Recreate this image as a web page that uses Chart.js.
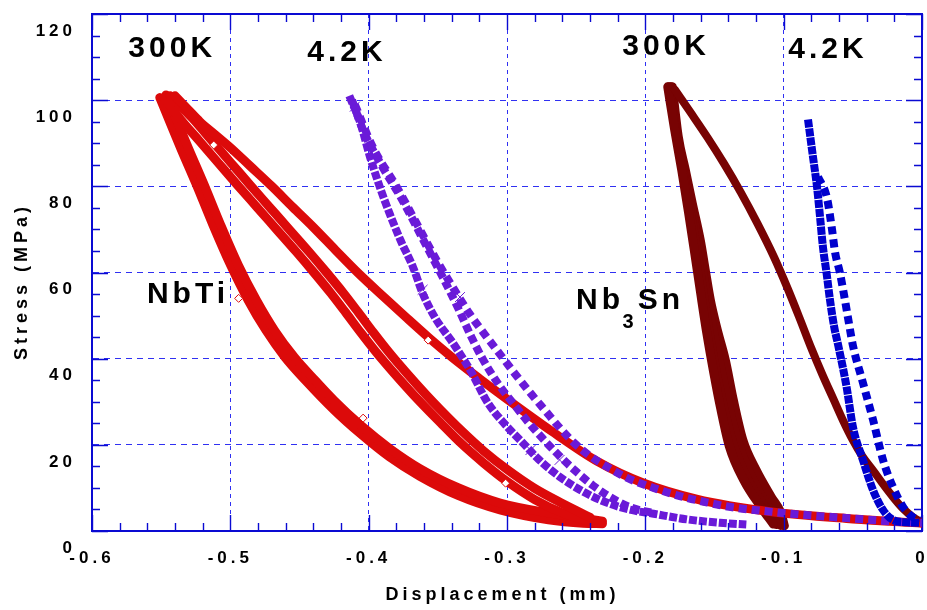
<!DOCTYPE html>
<html lang="en">
<head>
<meta charset="utf-8">
<title>Stress vs Displacement</title>
<script src="https://cdn.jsdelivr.net/npm/chart.js@4.4.1/dist/chart.umd.min.js"></script>
<style>
  html, body { margin: 0; padding: 0; background: #fff; }
  #wrap { width: 927px; height: 610px; }
</style>
</head>
<body>
<div id="wrap"><canvas id="stressChart" width="927" height="610"></canvas></div>
<script>
// --- Dados: [deslocamento (mm), tensão (MPa)] ---
const xTicks = [-0.6, -0.5, -0.4, -0.3, -0.2, -0.1, 0];
const yTicks = [0, 20, 40, 60, 80, 100, 120];

// NbTi 300K (vermelho) - primeira carga
const nbti300Upper = [[-0.540, 101.0], [-0.531, 98.0], [-0.522, 95.0], [-0.511, 92.0], [-0.500, 89.0], [-0.486, 84.8], [-0.470, 80.0], [-0.455, 75.2], [-0.440, 70.5], [-0.424, 65.2], [-0.408, 60.0], [-0.390, 54.6], [-0.373, 49.6], [-0.357, 45.0], [-0.340, 40.4], [-0.320, 35.4], [-0.300, 30.6], [-0.267, 23.0], [-0.235, 16.2], [-0.202, 11.2], [-0.163, 7.4], [-0.110, 4.5], [-0.050, 2.8], [0.000, 1.8]];
// NbTi 300K - ciclos de recarga (duas faixas)
const nbti300ReloadA = [[-0.5435, 101.0], [-0.5274, 95.8], [-0.5134, 90.6], [-0.4994, 85.4], [-0.4854, 80.2], [-0.4714, 75.1], [-0.4574, 70.0], [-0.4434, 64.9], [-0.4304, 60.0], [-0.4184, 55.3], [-0.4074, 50.7], [-0.3964, 46.0], [-0.3854, 41.5], [-0.3724, 36.6], [-0.3584, 31.6], [-0.348, 28.1], [-0.333, 23.3], [-0.317, 18.6], [-0.300, 14.3], [-0.280, 9.9], [-0.260, 6.4], [-0.240, 3.2]];
const nbti300ReloadB = [[-0.5480, 100.6], [-0.5366, 95.8], [-0.5226, 90.6], [-0.5086, 85.4], [-0.4946, 80.2], [-0.4806, 75.1], [-0.4666, 70.0], [-0.4526, 64.9], [-0.4396, 60.0], [-0.4276, 55.3], [-0.4166, 50.7], [-0.4056, 46.0], [-0.3946, 41.5], [-0.3816, 36.6], [-0.3676, 31.6], [-0.348, 25.1], [-0.333, 20.3], [-0.317, 15.8], [-0.300, 11.5], [-0.280, 7.3], [-0.260, 4.2], [-0.242, 2.3]];
// NbTi 300K - descargas (faixa grossa)
const nbti300UnloadA = [[-0.5465, 101.2], [-0.5383, 95.0], [-0.5302, 88.8], [-0.5192, 80.6], [-0.5072, 71.2], [-0.4942, 61.7], [-0.4810, 53.5], [-0.4679, 46.5], [-0.4536, 40.3], [-0.4385, 34.9], [-0.425, 30.3], [-0.406, 24.6], [-0.385, 19.2], [-0.363, 14.5], [-0.335, 10.0], [-0.305, 6.5], [-0.270, 4.2], [-0.245, 3.0], [-0.231, 2.3]];
const nbti300UnloadB = [[-0.551, 100.6], [-0.5438, 95.0], [-0.5358, 88.8], [-0.5248, 80.6], [-0.5128, 71.2], [-0.4998, 61.7], [-0.4870, 53.5], [-0.4741, 46.5], [-0.4604, 40.3], [-0.4455, 34.9], [-0.425, 28.1], [-0.406, 22.6], [-0.385, 17.2], [-0.363, 12.7], [-0.335, 8.2], [-0.305, 4.9], [-0.270, 2.6], [-0.245, 1.8], [-0.231, 1.7]];
const nbti300Marks = [[-0.512, 89.6], [-0.494, 54.0], [-0.357, 44.3], [-0.404, 26.2], [-0.301, 11.1]];

// NbTi 4.2K (roxo, pontos quadrados)
const nbti4kLeft = [[-0.414, 101.0], [-0.406, 94.7], [-0.399, 86.8], [-0.392, 79.9], [-0.385, 73.8], [-0.377, 67.5], [-0.368, 61.3], [-0.361, 55.2], [-0.352, 49.5], [-0.339, 43.6], [-0.326, 37.0], [-0.314, 29.8], [-0.301, 24.6], [-0.289, 20.6], [-0.277, 16.6], [-0.262, 12.6], [-0.243, 8.8], [-0.228, 6.6], [-0.212, 5.0], [-0.194, 4.0], [-0.170, 2.7], [-0.146, 1.9], [-0.127, 1.5]];
const nbti4kMid = [[-0.412, 100.0], [-0.404, 93.0], [-0.390, 84.5], [-0.376, 77.0], [-0.358, 66.0], [-0.345, 58.0], [-0.335, 51.5], [-0.326, 45.2], [-0.317, 39.6], [-0.306, 34.0], [-0.295, 29.4], [-0.285, 25.4], [-0.274, 21.4], [-0.262, 17.4], [-0.250, 13.8], [-0.238, 10.6], [-0.224, 7.6], [-0.210, 5.4], [-0.196, 4.3]];
const nbti4kRight = [[-0.410, 99.0], [-0.397, 89.1], [-0.380, 80.0], [-0.364, 70.6], [-0.351, 62.9], [-0.339, 56.5], [-0.327, 50.4], [-0.316, 45.6], [-0.305, 41.0], [-0.294, 36.4], [-0.283, 32.0], [-0.272, 27.8], [-0.262, 24.0], [-0.252, 20.6], [-0.240, 17.4], [-0.226, 14.6], [-0.213, 12.3], [-0.194, 10.0], [-0.175, 8.1], [-0.155, 6.6], [-0.137, 5.5], [-0.110, 4.5], [-0.080, 3.6], [-0.050, 2.9], [-0.020, 2.2], [0.000, 1.9]];
const nbti4kCrosses = [[-0.410, 98.5], [-0.361, 56.0], [-0.334, 54.3], [-0.283, 18.8], [-0.262, 16.5]];

// Nb3Sn 300K (vermelho escuro)
const nb3sn300First = [[-0.1786, 102.4], [-0.167, 97.0], [-0.155, 91.3], [-0.143, 85.2], [-0.131, 78.6], [-0.119, 71.4], [-0.107, 63.6], [-0.097, 56.2], [-0.088, 49.0], [-0.080, 42.4], [-0.072, 36.3], [-0.064, 30.6], [-0.057, 25.6], [-0.050, 21.1], [-0.043, 17.3], [-0.035, 13.9], [-0.028, 10.8], [-0.021, 7.9], [-0.014, 5.3], [-0.0065, 3.2], [-0.0007, 2.1]];
const nb3sn300LoopA = [[-0.1838, 103.1], [-0.1788, 93.1], [-0.1737, 83.8], [-0.1687, 73.8], [-0.1643, 64.5], [-0.1600, 55.2], [-0.1556, 46.0], [-0.1505, 36.7], [-0.1453, 28.1], [-0.1393, 19.7], [-0.1288, 11.8], [-0.1165, 5.6], [-0.1075, 1.6]];
const nb3sn300LoopB = [[-0.1827, 103.1], [-0.1780, 92.8], [-0.1729, 83.8], [-0.1679, 74.6], [-0.1630, 65.5], [-0.1589, 56.8], [-0.1540, 46.3], [-0.1485, 36.5], [-0.1428, 27.9], [-0.1362, 19.9], [-0.1258, 11.9], [-0.1140, 5.8], [-0.1050, 1.5]];
const nb3sn300LoopC = [[-0.1816, 103.1], [-0.1771, 92.2], [-0.1720, 83.8], [-0.1670, 75.3], [-0.1617, 66.5], [-0.1578, 58.6], [-0.1530, 50.0], [-0.1482, 42.0], [-0.1428, 33.8], [-0.1365, 24.7], [-0.1290, 17.0], [-0.1185, 9.5], [-0.1075, 4.0], [-0.1022, 1.3]];
const nb3sn300LoopD = [[-0.1805, 103.1], [-0.1762, 91.5], [-0.1711, 83.8], [-0.1661, 76.1], [-0.1603, 67.5], [-0.1567, 60.6], [-0.1530, 53.6], [-0.1480, 46.7], [-0.1422, 39.7], [-0.1364, 30.4], [-0.1295, 21.1], [-0.1200, 14.2], [-0.1090, 7.9], [-0.1020, 4.2], [-0.0995, 1.2]];

// Nb3Sn 4.2K (azul, pontos quadrados)
const nb3sn4kLeft = [[-0.0824, 95.5], [-0.0788, 86.8], [-0.0759, 79.9], [-0.0737, 72.9], [-0.0716, 65.9], [-0.0690, 59.9], [-0.0665, 53.6], [-0.0635, 47.4], [-0.0605, 43.0], [-0.0545, 33.4], [-0.0499, 24.1], [-0.0427, 16.5], [-0.0354, 9.5], [-0.0282, 4.9], [-0.0210, 2.6], [-0.0100, 2.0], [-0.0014, 1.9]];
const nb3sn4kRight = [[-0.0752, 82.2], [-0.0687, 77.3], [-0.0650, 69.9], [-0.0629, 64.8], [-0.0593, 59.9], [-0.0557, 53.6], [-0.0535, 49.5], [-0.0499, 43.0], [-0.0427, 34.4], [-0.0354, 25.8], [-0.0282, 16.5], [-0.0210, 10.2], [-0.0137, 5.6], [-0.0065, 3.2], [-0.0014, 2.6]];

// --- Estilos ---
const red = '#dc0a0a';
const darkRed = '#780303';
const purple = '#6a1ad8';
const blue = '#0000cd';
const axisBlue = '#0a0ad2';
const gridBlue = '#3030f2';
const fontFamily = '"Liberation Sans", Arial, Helvetica, sans-serif';
const tickFont = { family: fontFamily, size: 17, weight: 'bold' };
const titleFont = { family: fontFamily, size: 18, weight: 'bold' };

// Textos dentro do gráfico (posição em unidades dos eixos)
const annotations = [
    { text: '300K', x: -0.542, y: 111.9, size: 30 },
    { text: '4.2K', x: -0.4157, y: 111.0, size: 30 },
    { text: '300K', x: -0.185, y: 112.3, size: 30 },
    { text: '4.2K', x: -0.068, y: 111.7, size: 30 },
    { text: 'NbTi', x: -0.5306, y: 54.8, size: 30 },
    { text: 'Nb', x: -0.2328, y: 53.4, size: 30 },
    { text: '3', x: -0.211, y: 48.5, size: 20 },
    { text: 'Sn', x: -0.1887, y: 53.4, size: 30 }
];

const toPoints = arr => arr.map(([x, y]) => ({ x, y }));

function lineSet(data, color, width, extra = {}) {
    return {
        data: toPoints(data),
        showLine: true,
        borderColor: color,
        backgroundColor: color,
        borderWidth: width,
        pointRadius: 0,
        cubicInterpolationMode: 'monotone',
        borderCapStyle: 'round',
        borderJoinStyle: 'round',
        ...extra
    };
}

// cadeia de quadrados = linha grossa tracejada
function dotSet(data, color, dash) {
    return lineSet(data, color, 8, { borderDash: dash, borderCapStyle: 'butt', borderJoinStyle: 'miter' });
}

// --- Plugins ---
const letterSpacingPlugin = {
    id: 'letterSpacing',
    beforeDraw(chart) { chart.ctx.letterSpacing = '4px'; },
    afterDraw(chart) { chart.ctx.letterSpacing = '0px'; }
};

const textLabelsPlugin = {
    id: 'textLabels',
    afterDatasetsDraw(chart) {
        const { ctx, scales: { x, y } } = chart;
        ctx.save();
        ctx.fillStyle = '#000';
        ctx.textAlign = 'center';
        ctx.textBaseline = 'middle';
        ctx.letterSpacing = '4px';
        annotations.forEach(a => {
            ctx.font = `bold ${a.size}px ${fontFamily}`;
            ctx.fillText(a.text, x.getPixelForValue(a.x), y.getPixelForValue(a.y));
        });
        ctx.restore();
    }
};

// marcas dos eixos viradas para dentro, nos quatro lados
const innerTicksPlugin = {
    id: 'innerTicks',
    afterDraw(chart) {
        const { ctx, chartArea: area, scales: { x, y } } = chart;
        ctx.save();
        ctx.strokeStyle = axisBlue;
        ctx.lineWidth = 1.4;
        ctx.beginPath();
        for (let i = 0; i <= 30; i++) {
            const px = Math.round(x.getPixelForValue(-0.6 + i * 0.02)) + 0.5;
            const len = i % 5 === 0 ? 16 : 8;
            ctx.moveTo(px, area.bottom); ctx.lineTo(px, area.bottom - len);
            ctx.moveTo(px, area.top); ctx.lineTo(px, area.top + len);
        }
        for (let i = 0; i <= 24; i++) {
            const py = Math.round(y.getPixelForValue(i * 5)) + 0.5;
            const len = i % 4 === 0 ? 16 : 8;
            ctx.moveTo(area.left, py); ctx.lineTo(area.left + len, py);
            ctx.moveTo(area.right, py); ctx.lineTo(area.right - len, py);
        }
        ctx.stroke();
        ctx.restore();
    }
};

// --- Gráfico ---
const ctx = document.getElementById('stressChart').getContext('2d');
new Chart(ctx, {
    type: 'scatter',
    data: {
        datasets: [
            // o primeiro conjunto fica por cima
            dotSet(nb3sn4kLeft, blue, [8, 1]),
            dotSet(nb3sn4kRight, blue, [8, 5]),
            { data: toPoints(nbti4kCrosses), showLine: false, pointStyle: 'crossRot', pointRadius: 7, borderColor: purple, borderWidth: 1 },
            dotSet(nbti4kRight, purple, [8, 5]),
            dotSet(nbti4kMid, purple, [8, 4]),
            dotSet(nbti4kLeft, purple, [8, 2]),
            { data: toPoints(nbti300Marks), showLine: false, pointStyle: 'rectRot', pointRadius: 4, borderColor: red, backgroundColor: '#fff', borderWidth: 1 },
            lineSet(nbti300Upper, red, 9),
            lineSet(nbti300ReloadA, red, 9),
            lineSet(nbti300ReloadB, red, 9),
            lineSet(nbti300UnloadA, red, 9),
            lineSet(nbti300UnloadB, red, 9),
            lineSet(nb3sn300First, darkRed, 8),
            lineSet(nb3sn300LoopA, darkRed, 9),
            lineSet(nb3sn300LoopB, darkRed, 9),
            lineSet(nb3sn300LoopC, darkRed, 9),
            lineSet(nb3sn300LoopD, darkRed, 9)
        ]
    },
    options: {
        responsive: false,
        devicePixelRatio: 1,
        animation: false,
        events: [],
        layout: { autoPadding: false, padding: { top: 14, right: 5, left: 0, bottom: 0 } },
        plugins: { legend: { display: false }, tooltip: { enabled: false } },
        scales: {
            x: {
                type: 'linear', position: 'bottom', min: -0.6, max: 0,
                afterBuildTicks: s => { s.ticks = xTicks.map(v => ({ value: v })); },
                afterFit: s => { s.height = 79; s.paddingLeft = 0; s.paddingRight = 0; },
                ticks: { callback: v => (v === 0 ? '0' : v.toFixed(1)), color: '#000', font: tickFont, padding: 17, maxRotation: 0, autoSkip: false },
                grid: { color: gridBlue, lineWidth: 1, drawTicks: false },
                border: { color: axisBlue, width: 2, dash: [4, 4] },
                title: { display: true, text: 'Displacement (mm) ', color: '#000', font: titleFont, padding: { top: 0, bottom: 4 } }
            },
            y: {
                type: 'linear', position: 'left', min: 0, max: 120,
                afterBuildTicks: s => { s.ticks = yTicks.map(v => ({ value: v })); },
                afterFit: s => { s.width = 92; s.paddingTop = 0; s.paddingBottom = 0; },
                ticks: { color: '#000', font: tickFont, padding: 16, labelOffset: 17 },
                grid: { color: gridBlue, lineWidth: 1, drawTicks: false },
                border: { color: axisBlue, width: 2, dash: [6, 5] },
                title: { display: true, text: 'Stress (MPa)  ', color: '#000', font: titleFont, padding: { top: 11, bottom: 0 } }
            },
            x2: {
                type: 'linear', position: 'top', min: -0.6, max: 0,
                afterFit: s => { s.height = 0; s.paddingLeft = 0; s.paddingRight = 0; },
                ticks: { display: false },
                grid: { drawOnChartArea: false, drawTicks: false },
                border: { color: axisBlue, width: 2 }
            },
            y2: {
                type: 'linear', position: 'right', min: 0, max: 120,
                afterFit: s => { s.width = 0; s.paddingTop = 0; s.paddingBottom = 0; },
                ticks: { display: false },
                grid: { drawOnChartArea: false, drawTicks: false },
                border: { color: axisBlue, width: 2 }
            }
        }
    },
    plugins: [letterSpacingPlugin, textLabelsPlugin, innerTicksPlugin]
});
</script>
</body>
</html>
